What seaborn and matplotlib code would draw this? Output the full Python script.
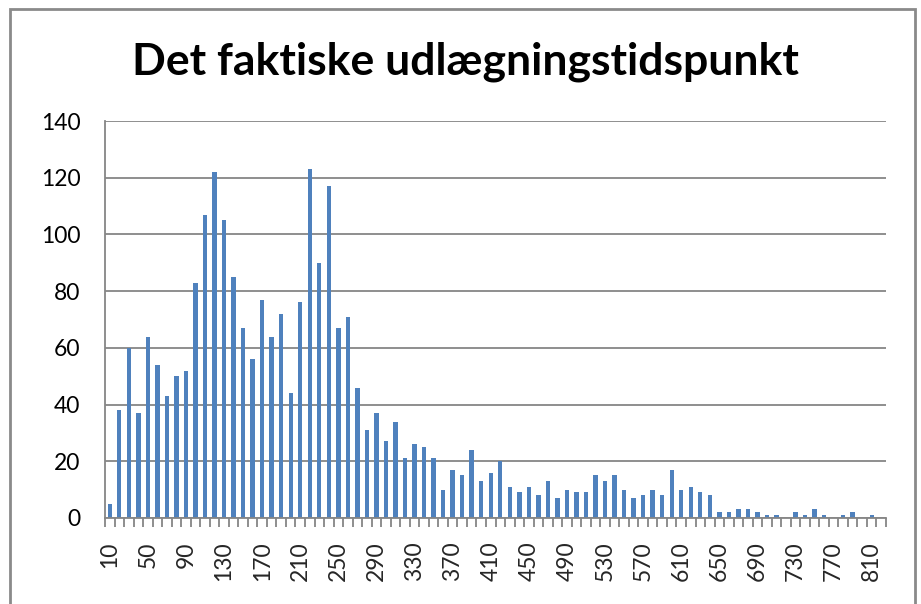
import matplotlib
matplotlib.use("Agg")
import matplotlib.pyplot as plt
import seaborn as sns
import pandas as pd
from matplotlib.patches import Rectangle
from matplotlib.ticker import FixedLocator

categories = list(range(10, 830, 10))
values = [5, 38, 60, 37, 64, 54, 43, 50, 52, 83,
          107, 122, 105, 85, 67, 56, 77, 64, 72, 44,
          76, 123, 90, 117, 67, 71, 46, 31, 37, 27,
          34, 21, 26, 25, 21, 10, 17, 15, 24, 13,
          16, 20, 11, 9, 11, 8, 13, 7, 10, 9,
          9, 15, 13, 15, 10, 7, 8, 10, 8, 17,
          10, 11, 9, 8, 2, 2, 3, 3, 2, 1,
          1, 0, 2, 1, 3, 1, 0, 1, 2, 0,
          1, 0]
title = "Det faktiske udlægningstidspunkt"
yticks = [0, 20, 40, 60, 80, 100, 120, 140]

df = pd.DataFrame({"cat": [str(c) for c in categories], "val": values})

sns.set_theme(style="white")
plt.rcParams["font.family"] = ["Lato", "DejaVu Sans"]

fig = plt.figure(figsize=(9.21, 6.04), dpi=100)
ax = fig.add_axes([105 / 921, 1 - 518 / 604, (886 - 105) / 921, (518 - 121) / 604])

sns.barplot(data=df, x="cat", y="val", color="#4F81BD", saturation=1,
            width=0.46, linewidth=0, ax=ax, order=df["cat"].tolist())

n = len(categories)
ax.set_xlim(-0.5, n - 0.5)
ax.set_ylim(0, 140)
ax.set_yticks(yticks)
ax.set_yticklabels([str(t) for t in yticks], fontsize=16.5)
ax.yaxis.grid(True, color="#868686", linewidth=1.3)
ax.set_axisbelow(True)
ax.tick_params(axis="y", length=5.8, width=1.3, color="#868686", pad=12, labelcolor="black")

major = list(range(0, n, 4))
ax.set_xticks(major)
ax.set_xticklabels([str(categories[i]) for i in major], rotation=90, fontsize=16.5)
ax.xaxis.set_minor_locator(FixedLocator([i - 0.5 for i in range(n + 1)]))
ax.tick_params(axis="x", which="major", length=0, pad=17)
ax.tick_params(axis="x", which="minor", length=6.3, width=1.3, color="#868686", bottom=True)
ax.set_xlabel("")
ax.set_ylabel("")

for s in ["top", "right"]:
    ax.spines[s].set_visible(False)
for s in ["left", "bottom"]:
    ax.spines[s].set_color("#868686")
    ax.spines[s].set_linewidth(1.3)

fig.text(465 / 921, 1 - 62 / 604, title, ha="center", va="center",
         fontsize=32, fontweight="bold", color="black")

border = Rectangle((10 / 921, -0.02), (915 - 10) / 921, 1 - 9 / 604 + 0.02,
                   transform=fig.transFigure, fill=False, edgecolor="#8a8a8a",
                   linewidth=2, zorder=10)
fig.patches.append(border)

fig.savefig("out.png", dpi=100)
